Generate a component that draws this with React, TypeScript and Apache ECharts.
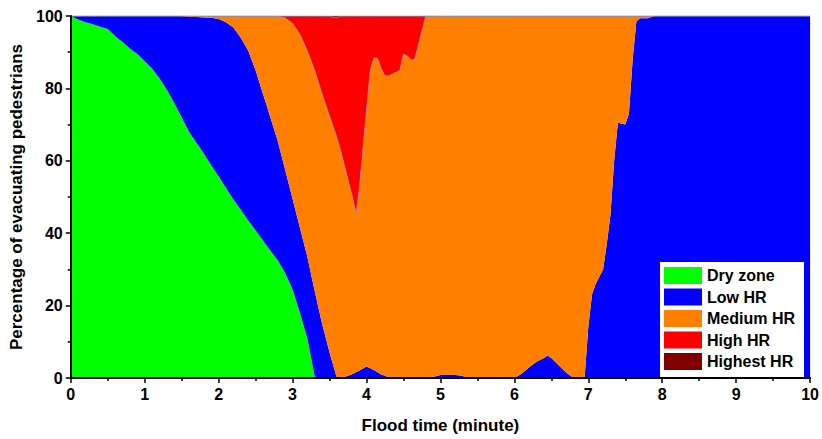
import React, { useEffect, useRef } from "react";
import * as echarts from "echarts";

const times = [
  0, 0.1, 0.2, 0.3, 0.4, 0.5, 0.6, 0.7, 0.8, 0.9,
  1.0, 1.1, 1.2, 1.3, 1.4, 1.5, 1.6, 1.7, 1.8, 1.9,
  2.0, 2.1, 2.2, 2.3, 2.4, 2.5, 2.6, 2.7, 2.8, 2.9,
  3.0, 3.1, 3.2, 3.3, 3.35, 3.4, 3.5, 3.55, 3.6, 3.65,
  3.7, 3.8, 3.86, 3.9, 4.0, 4.05, 4.1, 4.15, 4.2, 4.25,
  4.3, 4.4, 4.45, 4.5, 4.55, 4.6, 4.65, 4.7, 4.75, 4.8,
  4.9, 5.0, 5.1, 5.2, 5.3, 5.35, 6.0, 6.1, 6.2, 6.3,
  6.4, 6.45, 6.5, 6.6, 6.7, 6.8, 6.95, 7.0, 7.05, 7.1,
  7.2, 7.25, 7.3, 7.35, 7.4, 7.5, 7.55, 7.6, 7.65, 7.7,
  7.8, 7.9, 8.0, 9.0, 10.0,
];

const dryZone = [
  100, 99.0, 98.3, 97.7, 97.0, 96.4, 94.5, 92.8, 91.0, 89.5,
  87.6, 85.5, 82.8, 79.6, 76.0, 72.0, 68.0, 65.0, 62.0, 58.8,
  55.7, 52.5, 49.3, 46.5, 43.5, 40.8, 38.0, 35.2, 32.5, 29.0,
  24.5, 18.0, 11.0, 0.5, 0, 0, 0, 0, 0, 0,
  0, 0, 0, 0, 0, 0, 0, 0, 0, 0,
  0, 0, 0, 0, 0, 0, 0, 0, 0, 0,
  0, 0, 0, 0, 0, 0, 0, 0, 0, 0,
  0, 0, 0, 0, 0, 0, 0, 0, 0, 0,
  0, 0, 0, 0, 0, 0, 0, 0, 0, 0,
  0, 0, 0, 0, 0,
];

const lowHR = [
  0, 1.0, 1.7, 2.3, 3.0, 3.6, 5.5, 7.2, 9.0, 10.5,
  12.4, 14.5, 17.2, 20.4, 24.0, 28.0, 31.8, 34.7, 37.6, 40.7,
  43.5, 45.8, 47.5, 47.5, 47.0, 44.2, 40.5, 36.8, 33.0, 28.5,
  25.0, 23.5, 22.5, 23.5, 19.5, 15.0, 7.1, 3.5, 0, 0.1,
  0.3, 1.0, 1.6, 2.0, 3.2, 2.7, 2.2, 1.6, 1.0, 0.6,
  0.2, 0, 0, 0, 0, 0, 0, 0, 0, 0,
  0.3, 0.8, 0.9, 0.8, 0.6, 0, 0, 1.2, 3.0, 4.5,
  5.5, 6.2, 5.5, 3.5, 1.5, 0, 0, 14, 23, 26,
  30, 37, 45, 60, 70.5, 70, 73, 88, 98.5, 99.4,
  99.4, 100, 100, 100, 100,
];

const mediumHR = [
  0, 0, 0, 0, 0, 0, 0, 0, 0, 0,
  0, 0, 0, 0, 0, 0, 0.2, 0.3, 0.4, 0.5,
  0.8, 1.7, 3.2, 6.0, 9.5, 15.0, 21.5, 28.0, 34.5, 42.0,
  48.5, 53.5, 57.0, 61.0, 62.3, 63.5, 65.4, 66.0, 66.5, 62.9,
  58.7, 50, 43.9, 50, 70.8, 82.3, 86.3, 86.7, 84.5, 82.9,
  83.3, 84.5, 85, 89.5, 89, 88, 88, 92, 96, 100,
  99.7, 99.2, 99.1, 99.2, 99.4, 100, 100, 98.8, 97.0, 95.5,
  94.5, 93.8, 94.5, 96.5, 98.5, 100, 100, 86, 77, 74,
  70, 63, 55, 40, 29.5, 30, 27, 12, 1.5, 0.6,
  0.6, 0, 0, 0, 0,
];

const highHR = [
  0, 0, 0, 0, 0, 0, 0, 0, 0, 0,
  0, 0, 0, 0, 0, 0, 0, 0, 0, 0,
  0, 0, 0, 0, 0, 0, 0, 0, 0, 0.5,
  2.0, 5.0, 9.5, 15.0, 18.2, 21.5, 27.5, 30.1, 33.0, 37.0,
  41, 49, 54.5, 48, 26, 15, 11.5, 11.7, 14.5, 16.5,
  16.5, 15.5, 15, 10.5, 11, 12, 12, 8, 4, 0,
  0, 0, 0, 0, 0, 0, 0, 0, 0, 0,
  0, 0, 0, 0, 0, 0, 0, 0, 0, 0,
  0, 0, 0, 0, 0, 0, 0, 0, 0, 0,
  0, 0, 0, 0, 0,
];

const highestHR = [
  0, 0, 0, 0, 0, 0, 0, 0, 0, 0,
  0, 0, 0, 0, 0, 0, 0, 0, 0, 0,
  0, 0, 0, 0, 0, 0, 0, 0, 0, 0,
  0, 0, 0, 0, 0, 0, 0, 0.4, 0.5, 0,
  0, 0, 0, 0, 0, 0, 0, 0, 0, 0,
  0, 0, 0, 0, 0, 0, 0, 0, 0, 0,
  0, 0, 0, 0, 0, 0, 0, 0, 0, 0,
  0, 0, 0, 0, 0, 0, 0, 0, 0, 0,
  0, 0, 0, 0, 0, 0, 0, 0, 0, 0,
  0, 0, 0, 0, 0,
];

const seriesNames = ["Dry zone", "Low HR", "Medium HR", "High HR", "Highest HR"];
const seriesColors = ["#00ff00", "#0000ff", "#ff8000", "#ff0000", "#800000"];
const seriesValues = [dryZone, lowHR, mediumHR, highHR, highestHR];
const outlineWidths = [0, 0, 0.6, 0.6, 0.8];

const FONT = "'Liberation Sans', Arial, sans-serif";

export default function App() {
  const ref = useRef<HTMLDivElement>(null);
  useEffect(() => {
    document.body.style.margin = "0";
    if (!ref.current) return;
    const chart = echarts.init(ref.current, undefined, { renderer: "svg" });
    const series = seriesNames.map((name, i) => ({
      name,
      type: "line",
      stack: "total",
      symbol: "none",
      smooth: false,
      // value first so that the stacked dimension is the percentage
      dimensions: ["pct", "time"],
      encode: { x: 1, y: 0 },
      data: times.map((t, j) => [seriesValues[i][j], t]),
      itemStyle: { color: seriesColors[i] },
      lineStyle: { width: outlineWidths[i], color: "#8a8ab4" },
      areaStyle: { color: seriesColors[i], opacity: 1 },
      z: 2,
    }));
    chart.setOption({
      animation: false,
      backgroundColor: "#ffffff",
      textStyle: { fontFamily: FONT },
      grid: { left: 70.7, right: 10.5, top: 16, bottom: 60, containLabel: false },
      legend: {
        orient: "vertical",
        left: 660,
        top: 262,
        backgroundColor: "#ffffff",
        borderWidth: 0,
        padding: [5, 9, 7, 4],
        itemWidth: 38,
        itemHeight: 17,
        itemGap: 4.5,
        icon: "rect",
        itemStyle: { borderWidth: 0 },
        textStyle: { fontFamily: FONT, fontSize: 16, fontWeight: "bold", color: "#000", lineHeight: 17 },
        data: seriesNames.map((n, i) => ({ name: n, itemStyle: { color: seriesColors[i], borderWidth: 0 } })),
      },
      xAxis: {
        type: "value",
        min: 0,
        max: 10,
        interval: 1,
        name: "Flood time (minute)",
        nameLocation: "middle",
        nameGap: 39,
        nameTextStyle: { fontFamily: FONT, fontSize: 17, fontWeight: "bold", color: "#000" },
        axisLine: { show: true, onZero: false, lineStyle: { color: "#000", width: 2 } },
        axisTick: { show: true, inside: false, length: 5, lineStyle: { color: "#000", width: 1.5 } },
        minorTick: { show: true, splitNumber: 2, length: 3, lineStyle: { color: "#000", width: 1.5 } },
        axisLabel: { fontFamily: FONT, fontSize: 16, fontWeight: "bold", color: "#000", margin: 8 },
        splitLine: { show: false },
        z: 5,
      },
      yAxis: {
        type: "value",
        min: 0,
        max: 100,
        interval: 20,
        name: "Percentage of evacuating pedestrians",
        nameLocation: "middle",
        nameGap: 41,
        nameTextStyle: { fontFamily: FONT, fontSize: 17, fontWeight: "bold", color: "#000" },
        axisLine: { show: true, lineStyle: { color: "#000", width: 2 } },
        axisTick: { show: true, inside: false, length: 5, lineStyle: { color: "#000", width: 1.5 } },
        minorTick: { show: true, splitNumber: 2, length: 3, lineStyle: { color: "#000", width: 1.5 } },
        axisLabel: { fontFamily: FONT, fontSize: 16, fontWeight: "bold", color: "#000", margin: 8 },
        splitLine: { show: false },
        z: 5,
      },
      series,
    });
    return () => chart.dispose();
  }, []);
  return <div ref={ref} style={{ width: 822, height: 439 }} />;
}
